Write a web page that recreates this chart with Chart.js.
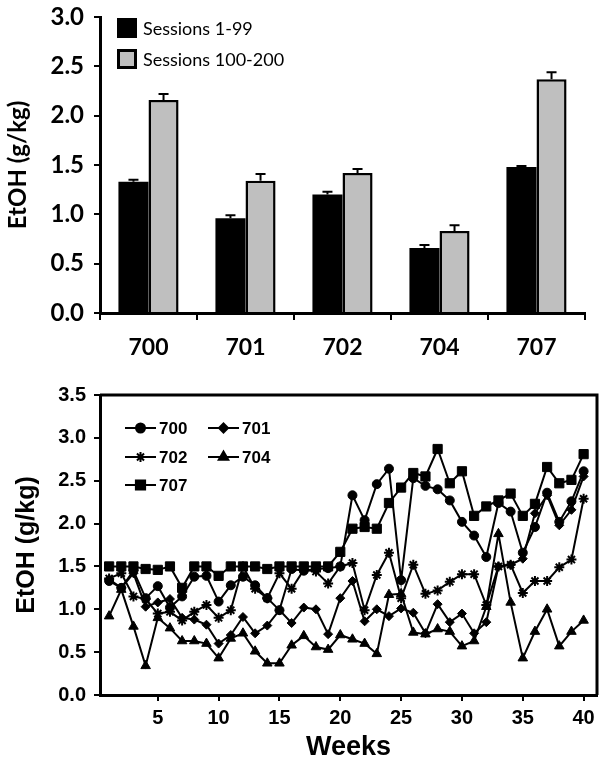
<!DOCTYPE html>
<html>
<head>
<meta charset="utf-8">
<script src="https://cdn.jsdelivr.net/npm/chart.js@4.4.0/dist/chart.umd.min.js"></script>
<style>
  html, body { margin: 0; padding: 0; background: #fff; }
  #wrap { width: 606px; height: 766px; }
  canvas { display: block; }
</style>
</head>
<body>
<div id="wrap">
  <canvas id="barChart" width="606" height="365"></canvas>
  <canvas id="lineChart" width="606" height="401"></canvas>
</div>
<script>
// -------------------------------------------------------------
// Data: mean intake per monkey, two session blocks
// -------------------------------------------------------------
const monkeys = ['700', '701', '702', '704', '707'];
const early = [1.33, 0.96, 1.20, 0.66, 1.48];
const earlyErr = [0.02, 0.03, 0.03, 0.03, 0.01];
const late = [2.16, 1.34, 1.42, 0.83, 2.37];
const lateErr = [0.06, 0.07, 0.04, 0.06, 0.07];
const barYTicks = [0, 0.5, 1, 1.5, 2, 2.5, 3];

// -------------------------------------------------------------
// Data: weekly intake per monkey
// -------------------------------------------------------------
const weeks = [1, 2, 3, 4, 5, 6, 7, 8, 9, 10, 11, 12, 13, 14, 15, 16, 17, 18, 19, 20,
  21, 22, 23, 24, 25, 26, 27, 28, 29, 30, 31, 32, 33, 34, 35, 36, 37, 38, 39, 40];
const weekTicks = [5, 10, 15, 20, 25, 30, 35, 40];
const lineYTicks = [0, 0.5, 1, 1.5, 2, 2.5, 3, 3.5];

const m700 = [1.33, 1.25, 1.45, 1.13, 1.27, 1.02, 1.15, 1.38, 1.39, 1.09,
  1.28, 1.38, 1.28, 1.13, 0.99, 1.47, 1.45, 1.47, 1.48, 1.50,
  2.33, 2.04, 2.46, 2.64, 1.34, 2.53, 2.44, 2.40, 2.27, 2.02,
  1.86, 1.61, 2.24, 2.14, 1.66, 1.96, 2.36, 2.02, 2.26, 2.61];
const m701 = [1.35, 1.25, 1.42, 1.03, 1.08, 1.12, 0.90, 0.88, 0.82, 0.60,
  0.70, 0.91, 0.72, 0.81, 0.99, 0.84, 1.02, 1.00, 0.71, 1.13,
  1.33, 0.86, 1.00, 0.92, 1.01, 0.96, 0.72, 1.06, 0.85, 0.95,
  0.72, 0.85, 1.50, 1.52, 1.59, 2.12, 2.33, 1.98, 2.16, 2.55];
const m702 = [1.36, 1.42, 1.15, 1.12, 0.95, 0.97, 0.87, 0.97, 1.05, 0.90,
  0.99, 1.50, 1.24, 1.13, 1.42, 1.24, 1.46, 1.44, 1.30, 1.50,
  1.54, 0.99, 1.40, 1.66, 1.13, 1.52, 1.18, 1.22, 1.32, 1.41,
  1.41, 1.05, 1.50, 1.52, 1.19, 1.33, 1.33, 1.49, 1.58, 2.29];
const m704 = [0.92, 1.23, 0.80, 0.34, 0.90, 0.78, 0.63, 0.63, 0.60, 0.43,
  0.66, 0.72, 0.51, 0.37, 0.37, 0.58, 0.69, 0.56, 0.53, 0.70,
  0.65, 0.60, 0.48, 1.17, 1.18, 0.73, 0.71, 0.77, 0.74, 0.57,
  0.63, 1.03, 1.88, 1.08, 0.43, 0.74, 1.00, 0.57, 0.74, 0.87];
const m707 = [1.50, 1.50, 1.50, 1.47, 1.46, 1.50, 1.25, 1.50, 1.50, 1.39,
  1.50, 1.50, 1.50, 1.47, 1.50, 1.50, 1.50, 1.50, 1.50, 1.67,
  1.94, 1.96, 1.94, 2.24, 2.42, 2.59, 2.55, 2.87, 2.47, 2.61,
  2.09, 2.20, 2.27, 2.35, 2.09, 2.23, 2.66, 2.47, 2.51, 2.81];

const BAR_FONT = 'Lato, "Open Sans", sans-serif';
const LINE_FONT = '"Liberation Sans", Arial, sans-serif';

// -------------------------------------------------------------
// Plugins
// -------------------------------------------------------------
// upward-only error bars on top of each bar
const errorBars = {
  id: 'errorBars',
  afterDatasetsDraw(chart) {
    const ctx = chart.ctx;
    const yScale = chart.scales.y;
    const errs = [earlyErr, lateErr];
    ctx.save();
    ctx.strokeStyle = '#000';
    ctx.lineWidth = 2;
    chart.data.datasets.forEach((ds, di) => {
      chart.getDatasetMeta(di).data.forEach((bar, i) => {
        const top = yScale.getPixelForValue(ds.data[i] + errs[di][i]);
        ctx.beginPath();
        ctx.moveTo(bar.x, bar.y);
        ctx.lineTo(bar.x, top);
        ctx.moveTo(bar.x - 5, top);
        ctx.lineTo(bar.x + 5, top);
        ctx.stroke();
      });
    });
    ctx.restore();
  }
};

// boxed legend in the upper-left corner of the bar chart
const barLegend = {
  id: 'barLegend',
  afterDraw(chart) {
    const ctx = chart.ctx;
    ctx.save();
    ctx.font = '18px ' + BAR_FONT;
    ctx.textBaseline = 'middle';
    chart.data.datasets.forEach((ds, i) => {
      const yc = 28 + i * 31;
      ctx.fillStyle = '#000';
      ctx.fillRect(117, yc - 10, 20, 20);
      ctx.fillStyle = ds.backgroundColor;
      ctx.fillRect(120, yc - 7, 14, 14);
      ctx.fillStyle = '#000';
      ctx.fillText(ds.label, 143, yc + 1);
    });
    ctx.restore();
  }
};

// top and right edges of the line chart frame
const frame = {
  id: 'frame',
  afterDraw(chart) {
    const { ctx, chartArea: a } = chart;
    ctx.save();
    ctx.strokeStyle = '#000';
    ctx.lineWidth = 3;
    ctx.beginPath();
    ctx.moveTo(a.left, a.top);
    ctx.lineTo(a.right, a.top);
    ctx.lineTo(a.right, a.bottom);
    ctx.stroke();
    ctx.restore();
  }
};

// line + marker legend, two columns, inside the plot
const lineLegend = {
  id: 'lineLegend',
  afterDraw(chart) {
    const ctx = chart.ctx;
    const slots = [[125, 63], [208, 63], [125, 92], [208, 92], [125, 120]];
    ctx.save();
    ctx.font = 'bold 17px ' + LINE_FONT;
    ctx.textBaseline = 'middle';
    chart.data.datasets.forEach((ds, i) => {
      const [x, y] = slots[i];
      ctx.strokeStyle = '#000';
      ctx.fillStyle = '#000';
      ctx.lineWidth = 2;
      ctx.beginPath();
      ctx.moveTo(x, y);
      ctx.lineTo(x + 31, y);
      ctx.stroke();
      Chart.helpers.drawPoint(ctx, {
        pointStyle: ds.pointStyle, radius: ds.pointRadius,
        borderWidth: ds.pointBorderWidth, rotation: 0
      }, x + 15.5, y);
      ctx.fillText(ds.label, x + 34, y + 1);
    });
    ctx.restore();
  }
};

// -------------------------------------------------------------
// Bar chart
// -------------------------------------------------------------
new Chart(document.getElementById('barChart'), {
  type: 'bar',
  data: {
    labels: monkeys,
    datasets: [
      { label: 'Sessions 1-99', data: early, backgroundColor: '#000000',
        borderColor: '#000', borderWidth: 0 },
      { label: 'Sessions 100-200', data: late, backgroundColor: '#BFBFBF',
        borderColor: '#000', borderWidth: 2.5 }
    ]
  },
  options: {
    responsive: false,
    animation: false,
    categoryPercentage: 0.62,
    barPercentage: 1.0,
    layout: { padding: { top: 17, right: 21, left: 0, bottom: 0 } },
    plugins: { legend: { display: false }, tooltip: { enabled: false } },
    scales: {
      x: {
        afterFit: (s) => { s.height = 52; },
        grid: { offset: true, drawOnChartArea: false, drawTicks: true, tickLength: 7, color: '#000', lineWidth: 2 },
        border: { color: '#000', width: 3 },
        ticks: { color: '#000', padding: 14, font: { family: BAR_FONT, size: 23, weight: 'bold' } }
      },
      y: {
        min: 0,
        max: 3,
        afterBuildTicks: (s) => { s.ticks = barYTicks.map((v) => ({ value: v })); },
        afterFit: (s) => { s.width = 100; s.paddingTop = 0; },
        grid: { drawOnChartArea: false, drawTicks: true, tickLength: 6, color: '#000', lineWidth: 2 },
        border: { color: '#000', width: 3 },
        ticks: { color: '#000', padding: 10, font: { family: BAR_FONT, size: 24, weight: 'bold' },
          callback: (v) => Number(v).toFixed(1) },
        title: { display: true, text: 'EtOH (g/kg)', color: '#000', padding: { top: 4, bottom: 0 },
          font: { family: BAR_FONT, size: 24, weight: 'bold' } }
      }
    }
  },
  plugins: [errorBars, barLegend]
});

// -------------------------------------------------------------
// Weekly line chart
// -------------------------------------------------------------
const series = [
  ['700', m700, 'circle', 4.5],
  ['701', m701, 'rectRot', 4.5],
  ['702', m702, 'star', 5],
  ['704', m704, 'triangle', 5.5],
  ['707', m707, 'rect', 6.5]
];

new Chart(document.getElementById('lineChart'), {
  type: 'line',
  data: {
    datasets: series.map(([label, vals, shape, r]) => ({
      label: label,
      data: weeks.map((w, i) => ({ x: w, y: vals[i] })),
      borderColor: '#000',
      backgroundColor: '#000',
      borderWidth: 2,
      pointStyle: shape,
      pointRadius: r,
      pointBackgroundColor: '#000',
      pointBorderColor: '#000',
      pointBorderWidth: shape === 'star' ? 2 : 1,
      tension: 0,
      clip: false
    }))
  },
  options: {
    responsive: false,
    animation: false,
    layout: { padding: { top: 30, right: 9, left: 0, bottom: 0 } },
    plugins: { legend: { display: false }, tooltip: { enabled: false } },
    scales: {
      x: {
        type: 'linear',
        min: 0.25,
        max: 41.1,
        afterBuildTicks: (s) => { s.ticks = weekTicks.map((v) => ({ value: v })); },
        afterFit: (s) => { s.height = 71; },
        grid: { drawOnChartArea: false, drawTicks: true, tickLength: 6, color: '#000', lineWidth: 2 },
        border: { color: '#000', width: 3 },
        ticks: { color: '#000', padding: 5, maxRotation: 0, autoSkip: false,
          font: { family: LINE_FONT, size: 20, weight: 'bold' } },
        title: { display: true, text: 'Weeks', color: '#000', padding: { top: 0, bottom: 2 },
          font: { family: LINE_FONT, size: 27, weight: 'bold' } }
      },
      y: {
        min: 0,
        max: 3.5,
        afterBuildTicks: (s) => { s.ticks = lineYTicks.map((v) => ({ value: v })); },
        afterFit: (s) => { s.width = 100; },
        grid: { drawOnChartArea: false, drawTicks: true, tickLength: 6, color: '#000', lineWidth: 2 },
        border: { color: '#000', width: 3 },
        ticks: { color: '#000', padding: 8, font: { family: LINE_FONT, size: 20, weight: 'bold' },
          callback: (v) => Number(v).toFixed(1) },
        title: { display: true, text: 'EtOH (g/kg)', color: '#000', padding: { top: 12, bottom: 0 },
          font: { family: LINE_FONT, size: 25, weight: 'bold' } }
      }
    }
  },
  plugins: [frame, lineLegend]
});
</script>
</body>
</html>
